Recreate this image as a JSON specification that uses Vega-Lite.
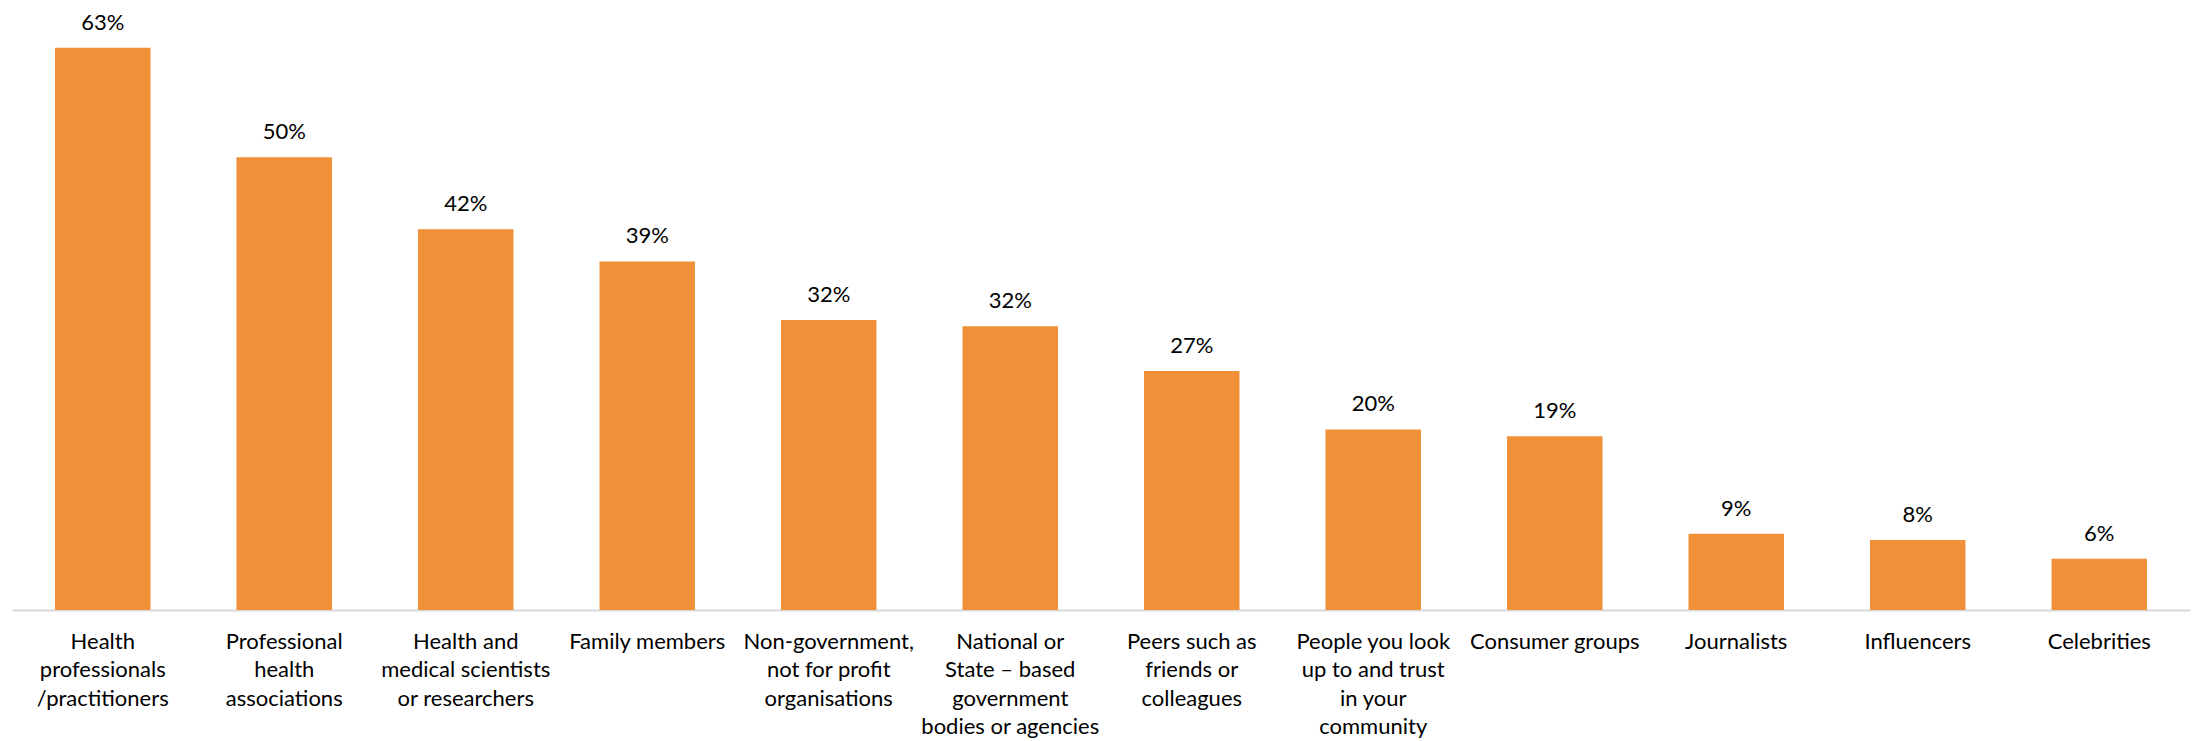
{
  "$schema": "https://vega.github.io/schema/vega-lite/v6.json",
  "width": 2178,
  "height": 600,
  "autosize": {"type": "none"},
  "padding": {"top": 10, "left": 12, "right": 8, "bottom": 131},
  "background": "white",
  "config": {"view": {"stroke": null}, "font": "Lato"},
  "data": {
    "values": [
      {"source": "Health|professionals|/practitioners", "value": 62.6, "pct": "63%"},
      {"source": "Professional|health|associations", "value": 50.4, "pct": "50%"},
      {"source": "Health and|medical scientists|or researchers", "value": 42.4, "pct": "42%"},
      {"source": "Family members", "value": 38.8, "pct": "39%"},
      {"source": "Non-government,|not for profit|organisations", "value": 32.3, "pct": "32%"},
      {"source": "National or|State – based|government|bodies or agencies", "value": 31.6, "pct": "32%"},
      {"source": "Peers such as|friends or|colleagues", "value": 26.6, "pct": "27%"},
      {"source": "People you look|up to and trust|in your|community", "value": 20.1, "pct": "20%"},
      {"source": "Consumer groups", "value": 19.35, "pct": "19%"},
      {"source": "Journalists", "value": 8.5, "pct": "9%"},
      {"source": "Influencers", "value": 7.8, "pct": "8%"},
      {"source": "Celebrities", "value": 5.7, "pct": "6%"}
    ]
  },
  "encoding": {
    "x": {
      "field": "source",
      "type": "nominal",
      "sort": null,
      "scale": {"paddingInner": 0.474, "paddingOuter": 0.237},
      "axis": {
        "title": null,
        "labelAngle": 0,
        "labelExpr": "split(datum.label, '|')",
        "labelFont": "Lato",
        "labelFontSize": 22,
        "labelColor": "#000000",
        "labelLineHeight": 28.5,
        "labelPadding": 21,
        "labelBaseline": "top",
        "labelLimit": 400,
        "ticks": false,
        "domainColor": "#d9d9d9",
        "domainWidth": 2,
        "labelOverlap": false
      }
    },
    "y": {
      "field": "value",
      "type": "quantitative",
      "scale": {"domain": [0, 66.8], "nice": false},
      "axis": null
    }
  },
  "layer": [
    {"mark": {"type": "bar", "color": "#F09038"}},
    {
      "mark": {"type": "text", "baseline": "alphabetic", "dy": -18, "fontSize": 22, "font": "Lato", "color": "#000000"},
      "encoding": {"text": {"field": "pct"}}
    }
  ]
}
